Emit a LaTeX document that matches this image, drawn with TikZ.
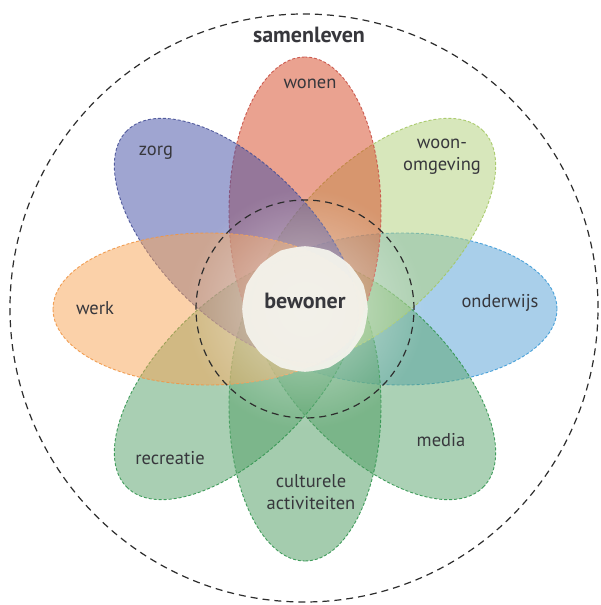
\documentclass[tikz,border=0pt]{standalone}
\usepackage{fontspec}
\setmainfont{PT Sans}
\usetikzlibrary{fadings}
\definecolor{wonenC}{RGB}{215,71,35}
\definecolor{zorgC}{RGB}{65,77,165}
\definecolor{omgC}{RGB}{177,209,121}
\definecolor{ondC}{RGB}{85,161,215}
\definecolor{medC}{RGB}{89,165,109}
\definecolor{recC}{RGB}{85,161,105}
\definecolor{culC}{RGB}{75,155,95}
\definecolor{werkC}{RGB}{249,165,85}
\definecolor{wonenL}{RGB}{200,80,70}
\definecolor{zorgL}{RGB}{70,80,150}
\definecolor{omgL}{RGB}{165,200,100}
\definecolor{ondL}{RGB}{60,155,215}
\definecolor{greenL}{RGB}{50,150,80}
\definecolor{werkL}{RGB}{240,150,70}
\definecolor{txt}{RGB}{55,55,60}
\definecolor{ringC}{RGB}{45,45,45}
\definecolor{blobC}{RGB}{244,243,236}
\tikzfading[name=corefade, inner color=transparent!45, outer color=transparent!100]
\begin{document}
\begin{tikzpicture}[x=1pt,y=1pt,
  petal/.style 2 args={fill=#1, fill opacity=0.5, draw=#2, draw opacity=0.9,
    dash pattern=on 3pt off 2pt, line width=0.9pt},
  ring/.style={draw=ringC, dash pattern=on 7pt off 5pt, line width=1.2pt},
  lbl/.style={text=txt, font=\fontsize{18.5}{22}\selectfont, align=center},
  boldlbl/.style={text=txt, font=\fontsize{22}{26}\bfseries\selectfont}]
\useasboundingbox (-305,-296) rectangle (295,309);
\fill[white] (-305,-296) rectangle (295,309);

% petals: ellipses pointing outwards from the centre, later ones on top
\foreach \ang/\col/\edge in {0/ondC/ondL, -45/medC/greenL, -90/culC/greenL,
    -135/recC/greenL, 45/omgC/omgL, 90/wonenC/wonenL, 135/zorgC/zorgL, 180/werkC/werkL}
  \path[petal={\col}{\edge}, rotate=\ang] (97,0) ellipse [x radius=155, y radius=76];

% light haze towards the middle
\fill[white, path fading=corefade] (0,0) circle [radius=120];

% the common core of all petals
\begin{scope}[scale=1.18]
  \clip[rotate=0]    (97,0) ellipse [x radius=155, y radius=76];
  \clip[rotate=45]   (97,0) ellipse [x radius=155, y radius=76];
  \clip[rotate=90]   (97,0) ellipse [x radius=155, y radius=76];
  \clip[rotate=135]  (97,0) ellipse [x radius=155, y radius=76];
  \clip[rotate=180]  (97,0) ellipse [x radius=155, y radius=76];
  \clip[rotate=225]  (97,0) ellipse [x radius=155, y radius=76];
  \clip[rotate=270]  (97,0) ellipse [x radius=155, y radius=76];
  \clip[rotate=315]  (97,0) ellipse [x radius=155, y radius=76];
  \fill[blobC, fill opacity=0.95] (-100,-100) rectangle (100,100);
\end{scope}

% dashed rings
\draw[ring] (0,0) circle [radius=109];
\draw[ring] (-1,1) circle [radius=294];

% labels
\node[boldlbl] (samenleven) at (4,274) {samenleven};
\node[boldlbl] (bewoner) at (0,8) {bewoner};
\node[lbl] (wonen) at (5,225) {wonen};
\node[lbl] (zorg) at (-149,156) {zorg};
\node[lbl] (woonomgeving) at (137,152) {woon-\\omgeving};
\node[lbl] (werk) at (-210,1) {werk};
\node[lbl] (onderwijs) at (195,6) {onderwijs};
\node[lbl] (recreatie) at (-135,-149) {recreatie};
\node[lbl] (media) at (136,-131) {media};
\node[lbl] (culturele) at (6,-183) {culturele\\activiteiten};
\end{tikzpicture}
\end{document}
